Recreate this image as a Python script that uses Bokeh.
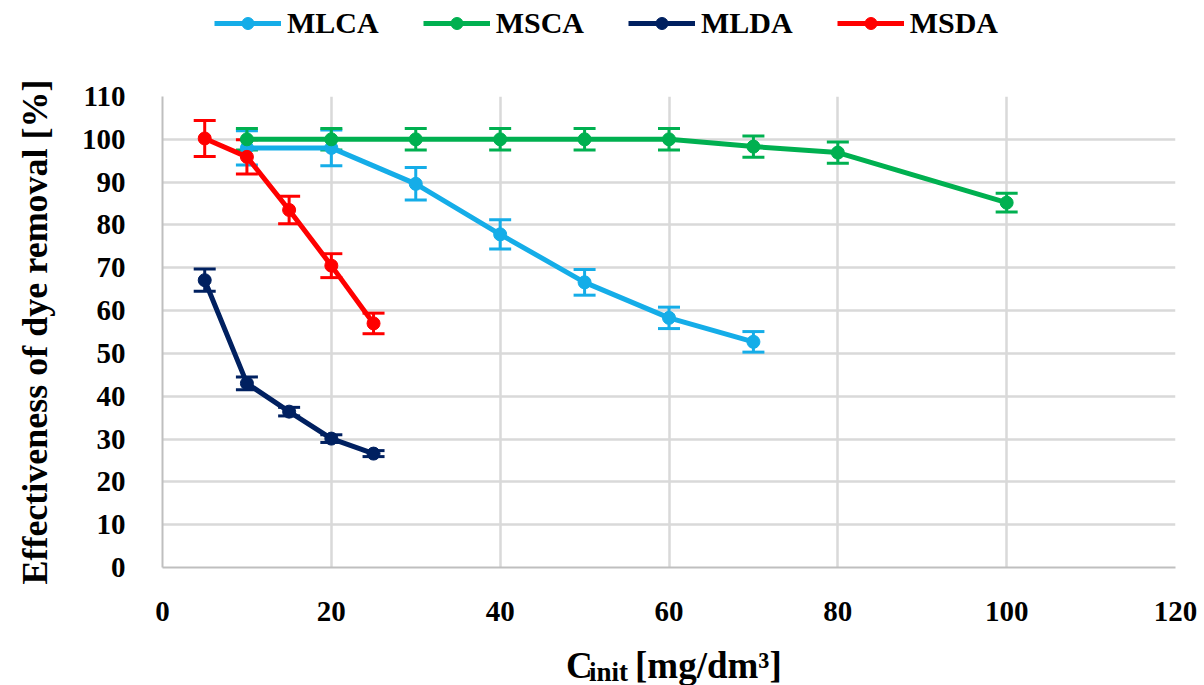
from bokeh.plotting import figure
from bokeh.layouts import column
from bokeh.models import (ColumnDataSource, Whisker, TeeHead, Legend, LegendItem,
                          Label, FixedTicker, Range1d)
from bokeh.embed import file_html
from bokeh.resources import INLINE

# ---- data ----
mlca_x = [10, 20, 30, 40, 50, 60, 70]
mlca_y = [98.0, 98.0, 89.6, 77.8, 66.6, 58.3, 52.7]
mlca_e = [4.0, 4.2, 3.8, 3.4, 3.0, 2.5, 2.4]

msca_x = [10, 20, 30, 40, 50, 60, 70, 80, 100]
msca_y = [100.0, 100.0, 100.0, 100.0, 100.0, 100.0, 98.3, 96.9, 85.2]
msca_e = [2.5, 2.5, 2.5, 2.5, 2.5, 2.5, 2.5, 2.5, 2.2]

mlda_x = [5, 10, 15, 20, 25]
mlda_y = [67.1, 43.0, 36.4, 30.1, 26.6]
mlda_e = [2.6, 1.5, 1.0, 0.9, 0.7]

msda_x = [5, 10, 15, 20, 25]
msda_y = [100.2, 95.9, 83.5, 70.5, 57.0]
msda_e = [4.2, 4.0, 3.2, 2.8, 2.4]

series_names = ["MLCA", "MSCA", "MLDA", "MSDA"]
series_colors = ["#15ADE8", "#00B050", "#002060", "#FF0000"]

x_ticks = [0, 20, 40, 60, 80, 100, 120]
y_ticks = [0, 10, 20, 30, 40, 50, 60, 70, 80, 90, 100, 110]

FONT = "Liberation Serif"
W = 1204
HEAD_H, MAIN_H, FOOT_H = 48, 592, 45


def bare(fig):
    fig.axis.visible = False
    fig.grid.visible = False
    fig.outline_line_color = None
    fig.border_fill_color = "white"
    fig.background_fill_color = "white"
    fig.min_border = 0


# ---- main chart ----
p = figure(width=W, height=MAIN_H, output_backend="svg", toolbar_location=None,
           x_range=Range1d(0, 120), y_range=Range1d(0, 110),
           min_border_left=162, min_border_right=29,
           min_border_top=HEAD_H, min_border_bottom=73)
p.outline_line_color = None
p.background_fill_color = "white"
p.border_fill_color = "white"

for ax in (p.xaxis[0], p.yaxis[0]):
    ax.axis_line_color = "#BFBFBF"
    ax.axis_line_width = 2
    ax.major_tick_line_color = None
    ax.minor_tick_line_color = None
    ax.major_label_text_font = FONT
    ax.major_label_text_font_style = "bold"
    ax.major_label_text_font_size = "29px"
    ax.major_label_text_color = "black"

p.xaxis[0].ticker = FixedTicker(ticks=x_ticks)
p.yaxis[0].ticker = FixedTicker(ticks=y_ticks)
p.xaxis[0].major_label_standoff = 28
p.yaxis[0].major_label_standoff = 31

p.xgrid[0].ticker = FixedTicker(ticks=x_ticks)
p.ygrid[0].ticker = FixedTicker(ticks=y_ticks)
for g in (p.xgrid[0], p.ygrid[0]):
    g.grid_line_color = "#D9D9D9"
    g.grid_line_width = 2.5

p.yaxis[0].axis_label = "Effectiveness of dye removal [%]"
p.yaxis[0].axis_label_text_font = FONT
p.yaxis[0].axis_label_text_font_style = "bold"
p.yaxis[0].axis_label_text_font_size = "36px"
p.yaxis[0].axis_label_text_color = "black"
p.yaxis[0].axis_label_standoff = 24

all_data = [(mlca_x, mlca_y, mlca_e), (msca_x, msca_y, msca_e),
            (mlda_x, mlda_y, mlda_e), (msda_x, msda_y, msda_e)]
for (xs, ys, es), col in zip(all_data, series_colors):
    src = ColumnDataSource(dict(x=xs, y=ys,
                                lo=[a - b for a, b in zip(ys, es)],
                                hi=[a + b for a, b in zip(ys, es)]))
    w = Whisker(source=src, base="x", lower="lo", upper="hi",
                line_color=col, line_width=3,
                upper_head=TeeHead(size=22, line_color=col, line_width=3),
                lower_head=TeeHead(size=22, line_color=col, line_width=3))
    p.add_layout(w)
    p.line("x", "y", source=src, line_color=col, line_width=5)
    p.scatter("x", "y", source=src, size=13, fill_color=col, line_color=col)

# ---- header with legend (frame aligned with main frame) ----
head = figure(width=W, height=HEAD_H, output_backend="svg", toolbar_location=None,
              x_range=p.x_range, y_range=Range1d(0, HEAD_H))
bare(head)
head.min_border_left = 162
head.min_border_right = 29
items = []
for name, col in zip(series_names, series_colors):
    # legend-only renderers, placed outside the visible range
    ln = head.line(x=[-50, -40], y=[-50, -50], line_color=col, line_width=5)
    sc = head.scatter(x=[-45], y=[-50], size=9, fill_color=col, line_color=col)
    items.append(LegendItem(label=name, renderers=[ln, sc]))
legend = Legend(items=items, orientation="horizontal", location=(52, 8))
legend.label_text_font = FONT
legend.label_text_font_style = "bold"
legend.label_text_font_size = "30px"
legend.label_text_color = "black"
legend.glyph_width = 67
legend.glyph_height = 30
legend.label_standoff = 6
legend.spacing = 44
legend.padding = 0
legend.margin = 0
legend.border_line_color = None
legend.background_fill_alpha = 0
head.add_layout(legend, "center")

# ---- footer with x-axis title (subscript) ----
foot = figure(width=W, height=FOOT_H, output_backend="svg", toolbar_location=None,
              x_range=p.x_range, y_range=Range1d(0, FOOT_H))
bare(foot)
foot.min_border_left = 162
foot.min_border_right = 29
foot.add_layout(Label(x=60, y=20, x_offset=-103, text="C", text_font=FONT,
                      text_font_style="bold", text_font_size="37px", text_color="black",
                      text_align="left", text_baseline="alphabetic"))
foot.add_layout(Label(x=60, y=14, x_offset=-80, text="init", text_font=FONT,
                      text_font_style="bold", text_font_size="27px", text_color="black",
                      text_align="left", text_baseline="alphabetic"))
foot.add_layout(Label(x=60, y=20, x_offset=-34, text="[mg/dm³]", text_font=FONT,
                      text_font_style="bold", text_font_size="37px", text_color="black",
                      text_align="left", text_baseline="alphabetic"))

layout = column(head, p, foot, spacing=0)
open("out.html", "w").write(file_html(layout, INLINE))
